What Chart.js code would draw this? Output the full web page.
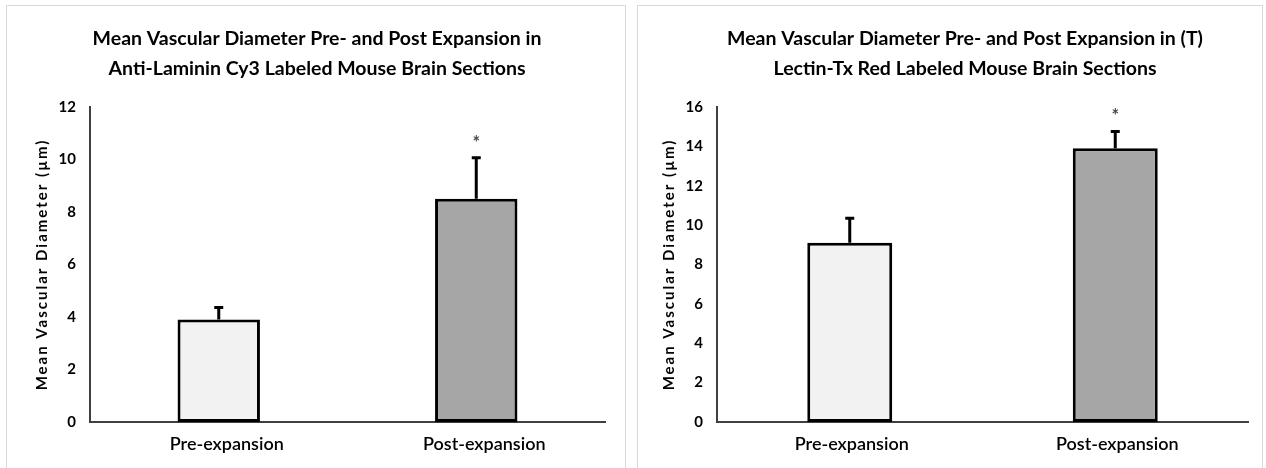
<!DOCTYPE html>
<html>
<head>
<meta charset="utf-8">
<script src="https://cdn.jsdelivr.net/npm/chart.js@4.4.1/dist/chart.umd.min.js"></script>
<style>
  html, body { margin: 0; padding: 0; background: #fff; width: 1266px; height: 468px; overflow: hidden; }
  .panel { position: absolute; border: 1px solid #d9d9d9; border-bottom: none; background: #fff; }
  #panelLaminin { left: 6px; top: 5px; width: 618px; height: 470px; }
  #panelLectin { left: 637px; top: 5px; width: 624px; height: 470px; }
  canvas { position: absolute; }
  #chartLaminin { left: 7px; top: 7px; }
  #chartLectin { left: 638px; top: 7px; }
</style>
</head>
<body>
<div class="panel" id="panelLaminin"></div>
<div class="panel" id="panelLectin"></div>
<canvas id="chartLaminin" width="617" height="461"></canvas>
<canvas id="chartLectin" width="624" height="461"></canvas>
<script>
// Groups compared in both panels
const categories = ['Pre-expansion', 'Post-expansion'];

// Anti-Laminin Cy3 labelled sections (µm)
const lamininMeans = [3.9, 8.5];
const lamininErrors = [0.5, 1.6];
const lamininMarks = ['', '*'];
const lamininMax = 12;

// Lectin-Tx Red labelled sections (µm)
const lectinMeans = [9.1, 13.9];
const lectinErrors = [1.3, 0.9];
const lectinMarks = ['', '*'];
const lectinMax = 16;

const tickStep = 2;
const yAxisTitle = 'Mean Vascular Diameter (µm)';
const lamininTitle = ['Mean Vascular Diameter Pre- and Post Expansion in', 'Anti-Laminin Cy3 Labeled Mouse Brain Sections'];
const lectinTitle = ['Mean Vascular Diameter Pre- and Post Expansion in (T)', 'Lectin-Tx Red Labeled Mouse Brain Sections'];

const barColors = ['#f2f2f2', '#a6a6a6'];

Chart.defaults.font.family = 'Lato';
Chart.defaults.color = '#000';

// Error bars (upper arm only) and significance marks above them
function errorBarPlugin(errors, marks) {
  return {
    id: 'errorBars',
    afterDatasetsDraw(chart) {
      const { ctx } = chart;
      const y = chart.scales.y;
      const meta = chart.getDatasetMeta(0);
      const values = chart.data.datasets[0].data;
      ctx.save();
      ctx.strokeStyle = '#000';
      ctx.lineWidth = 3;
      meta.data.forEach((bar, i) => {
        const top = y.getPixelForValue(values[i] + errors[i]);
        ctx.beginPath();
        ctx.moveTo(bar.x, bar.y);
        ctx.lineTo(bar.x, top);
        ctx.moveTo(bar.x - 4.5, top + 1);
        ctx.lineTo(bar.x + 4.5, top + 1);
        ctx.stroke();
        if (marks[i]) {
          ctx.fillStyle = '#4a4a4a';
          ctx.font = 'bold 18px Lato';
          ctx.textAlign = 'center';
          ctx.textBaseline = 'middle';
          ctx.fillText(marks[i], bar.x, top - 14);
        }
      });
      ctx.restore();
    }
  };
}

// Rotated, letter-spaced value-axis title
function yTitlePlugin(text, offset) {
  return {
    id: 'yTitle',
    afterDraw(chart) {
      const { ctx, chartArea } = chart;
      ctx.save();
      ctx.translate(chartArea.left - offset, (chartArea.top + chartArea.bottom) / 2);
      ctx.rotate(-Math.PI / 2);
      ctx.font = 'bold 15px Lato';
      if ('letterSpacing' in ctx) ctx.letterSpacing = '2px';
      ctx.fillStyle = '#000';
      ctx.textAlign = 'center';
      ctx.textBaseline = 'middle';
      ctx.fillText(text, 0, 0);
      ctx.restore();
    }
  };
}

function makeChart(id, title, means, errors, marks, yMax, pad, yWidth, labelShift) {
  return new Chart(document.getElementById(id), {
    type: 'bar',
    data: {
      labels: categories,
      datasets: [{
        data: means,
        backgroundColor: barColors,
        borderColor: '#000',
        borderWidth: 3,
        borderSkipped: false,
        barPercentage: 0.32,
        categoryPercentage: 1
      }]
    },
    options: {
      responsive: false,
      animation: false,
      events: [],
      layout: { padding: { left: pad.left, right: pad.right, top: 0, bottom: 0 } },
      plugins: {
        legend: { display: false },
        tooltip: { enabled: false },
        title: {
          display: true,
          text: title,
          color: '#000',
          font: { family: 'Lato', weight: 'bold', size: 19.5, lineHeight: 1.5 },
          padding: { top: 17.4, bottom: 24 }
        }
      },
      scales: {
        x: {
          grid: { display: false, drawTicks: false },
          border: { display: true, color: '#404040', width: 2 },
          ticks: { color: '#000', font: { size: 18, weight: '600' }, padding: 11, labelOffset: labelShift },
          afterFit(scale) { scale.height = 46; }
        },
        y: {
          min: 0,
          max: yMax,
          grid: { display: false, drawTicks: false },
          border: { display: true, color: '#404040', width: 2 },
          ticks: { stepSize: tickStep, color: '#000', font: { size: 15, weight: 'bold' }, padding: 14 },
          afterFit(scale) { scale.width = yWidth; }
        }
      }
    },
    plugins: [errorBarPlugin(errors, marks), yTitlePlugin(yAxisTitle, 48)]
  });
}

makeChart('chartLaminin', lamininTitle, lamininMeans, lamininErrors, lamininMarks, lamininMax, { left: 22, right: 19 }, 61, 8);
makeChart('chartLectin', lectinTitle, lectinMeans, lectinErrors, lectinMarks, lectinMax, { left: 44, right: 14 }, 35, 2);
</script>
</body>
</html>
